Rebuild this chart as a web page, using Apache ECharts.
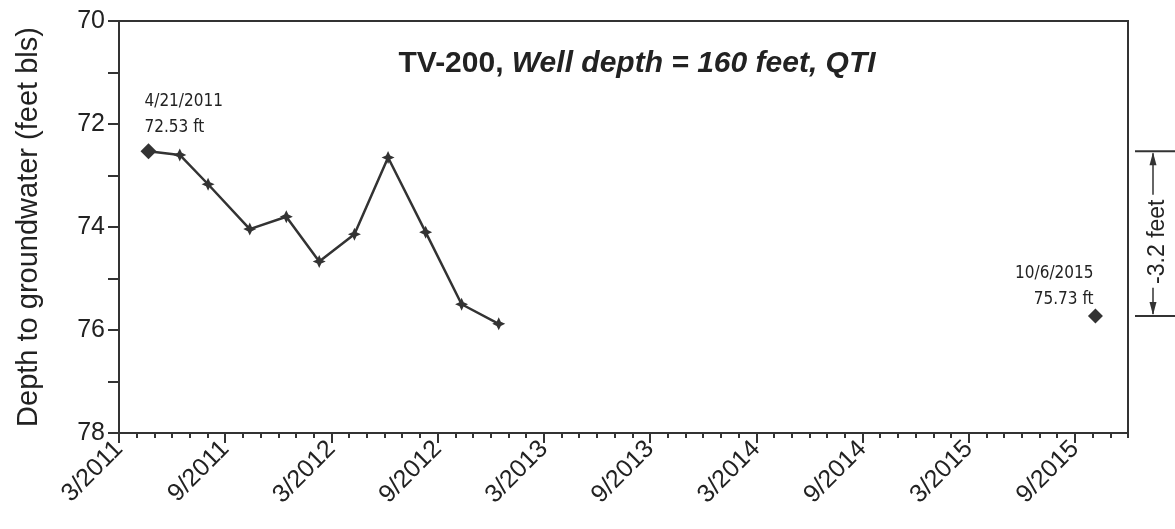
<!DOCTYPE html>
<html>
<head>
<meta charset="utf-8">
<script src="https://cdn.jsdelivr.net/npm/echarts@6/dist/echarts.min.js"></script>
<style>
html,body{margin:0;padding:0;background:#fff;}
#c{width:1175px;height:529px;}
</style>
</head>
<body>
<div id="c"></div>
<script>
// ---- data ----
const measureDates = ['2011-04-21','2011-06-14','2011-08-02','2011-10-13','2011-12-15','2012-02-10','2012-04-10','2012-06-07','2012-08-11','2012-10-12','2012-12-15'];
const measureDepths = [72.53, 72.60, 73.17, 74.04, 73.80, 74.67, 74.14, 72.65, 74.10, 75.50, 75.88];
const lastDate = '2015-10-06';
const lastDepth = 75.73;
const firstLabel = ['4/21/2011', '72.53 ft'];
const lastLabel = ['10/6/2015', '75.73 ft'];
const changeLabel = '-3.2 feet';
const xTickMonths = [0, 6, 12, 18, 24, 30, 36, 42, 48, 54]; // months since 3/2011
const yTicks = [70, 71, 72, 73, 74, 75, 76, 77, 78];
const yLabels = [70, 72, 74, 76, 78];
const titleBold = 'TV-200';
const titleItalic = 'Well depth = 160 feet, QTI';
const yName = 'Depth to groundwater (feet bls)';

// months since 1 Mar 2011 (fractional)
function monthPos(s) {
  const [y, m, d] = s.split('-').map(Number);
  const dim = new Date(y, m, 0).getDate();
  return (y - 2011) * 12 + (m - 3) + (d - 1) / dim;
}
function monthLabel(v) {
  const idx = v + 2;
  return (idx % 12 + 1) + '/' + (2011 + Math.floor(idx / 12));
}
const allMonths = [];
for (let i = 0; i <= 57; i++) allMonths.push(i);

const INK = '#333333';
const SANS = 'Arial, "Liberation Sans", sans-serif';
const star = 'path://M0,-10 L3.2,-3.2 L10,0 L3.2,3.2 L0,10 L-3.2,3.2 L-10,0 L-3.2,-3.2 Z';
const narrow = '"Liberation Sans Narrow", "Arial Narrow", "DejaVu Sans Condensed", sans-serif';

const lineData = measureDates.map((d, i) => {
  const item = { value: [monthPos(d), measureDepths[i]] };
  if (i === 0) {
    item.symbol = 'diamond';
    item.symbolSize = 16;
    item.label = {
      show: true, position: 'top', align: 'left', offset: [-4, 2],
      formatter: firstLabel.join('\n'), fontFamily: narrow, fontSize: 17,
      lineHeight: 26, color: '#222'
    };
  }
  return item;
});

const chart = echarts.init(document.getElementById('c'), null, { renderer: 'canvas' });
const option = {
  animation: false,
  backgroundColor: '#fff',
  title: {
    text: '{b|' + titleBold + '}{n|, }{i|' + titleItalic + '}',
    left: 632, top: 44, textAlign: 'center',
    textStyle: {
      rich: {
        b: { fontWeight: 'bold', fontSize: 30, fontFamily: SANS, color: '#222' },
        n: { fontSize: 30, fontFamily: SANS, color: '#222' },
        i: { fontStyle: 'italic', fontSize: 30, fontFamily: SANS, color: '#222' }
      }
    }
  },
  grid: {
    left: 119, right: 47, top: 21, bottom: 96,
    show: true, borderColor: INK, borderWidth: 2, backgroundColor: 'transparent'
  },
  xAxis: [{
    type: 'value', min: 0, max: 57, interval: 6,
    splitLine: { show: false },
    axisLine: { show: true, onZero: false, lineStyle: { color: INK, width: 2 } },
    axisTick: { show: true, length: 10, customValues: xTickMonths, lineStyle: { color: INK, width: 2 } },
    axisLabel: {
      customValues: xTickMonths, formatter: v => monthLabel(v), rotate: 45,
      fontSize: 25, color: '#222', margin: 12, fontFamily: SANS
    }
  }, {
    type: 'value', min: 0, max: 57, position: 'bottom',
    splitLine: { show: false },
    axisLine: { show: false, onZero: false },
    axisTick: { show: true, length: 5, customValues: allMonths, lineStyle: { color: INK, width: 2 } },
    axisLabel: { show: false }
  }],
  yAxis: {
    type: 'value', inverse: true, min: 70, max: 78, interval: 2,
    name: yName, nameLocation: 'middle', nameGap: 76, nameRotate: 90,
    nameTextStyle: { fontSize: 29, color: '#222', fontFamily: SANS },
    splitLine: { show: false },
    axisLine: { show: true, onZero: false, lineStyle: { color: INK, width: 2 } },
    axisTick: { show: true, length: 11, customValues: yTicks, lineStyle: { color: INK, width: 2 } },
    axisLabel: {
      customValues: yLabels, fontSize: 25, color: '#222', margin: 14, fontFamily: SANS
    }
  },
  series: [{
    type: 'line',
    data: lineData,
    symbol: star, symbolSize: 13,
    lineStyle: { color: INK, width: 2.5 },
    itemStyle: { color: INK, opacity: 1 },
    z: 3
  }, {
    type: 'scatter',
    data: [{
      value: [monthPos(lastDate), lastDepth],
      label: {
        show: true, position: 'top', align: 'right', offset: [-2, 9],
        formatter: lastLabel.join('\n'), fontFamily: narrow, fontSize: 17,
        lineHeight: 26, color: '#222'
      }
    }],
    symbol: 'diamond', symbolSize: 15,
    itemStyle: { color: INK, opacity: 1 },
    z: 3
  }]
};
chart.setOption(option);

// change bracket at right, positioned by the y scale
const yTop = chart.convertToPixel({ yAxisIndex: 0 }, measureDepths[0]);
const yBot = chart.convertToPixel({ yAxisIndex: 0 }, lastDepth);
const ax = 1153, x0 = 1135, x1 = 1175;
const yTxt = (yTop + yBot) / 2 + 8;
const txtHalf = 44;
chart.setOption({
  graphic: [
    { type: 'line', shape: { x1: x0, y1: yTop, x2: x1, y2: yTop }, style: { stroke: INK, lineWidth: 2 } },
    { type: 'line', shape: { x1: x0, y1: yBot, x2: x1, y2: yBot }, style: { stroke: INK, lineWidth: 2 } },
    { type: 'line', shape: { x1: ax, y1: yTop + 2, x2: ax, y2: yTxt - txtHalf - 3 }, style: { stroke: INK, lineWidth: 1.5 } },
    { type: 'polygon', shape: { points: [[ax, yTop + 1], [ax - 3.5, yTop + 14], [ax + 3.5, yTop + 14]] }, style: { fill: INK } },
    { type: 'line', shape: { x1: ax, y1: yTxt + txtHalf + 2, x2: ax, y2: yBot - 2 }, style: { stroke: INK, lineWidth: 1.5 } },
    { type: 'polygon', shape: { points: [[ax, yBot - 1], [ax - 3.5, yBot - 14], [ax + 3.5, yBot - 14]] }, style: { fill: INK } },
    {
      type: 'text', x: 1158, y: yTxt, rotation: Math.PI / 2,
      style: { text: changeLabel, fill: '#222', align: 'center', verticalAlign: 'middle',
               font: '23px Arial, "Liberation Sans", sans-serif' }
    }
  ]
});
</script>
</body>
</html>
